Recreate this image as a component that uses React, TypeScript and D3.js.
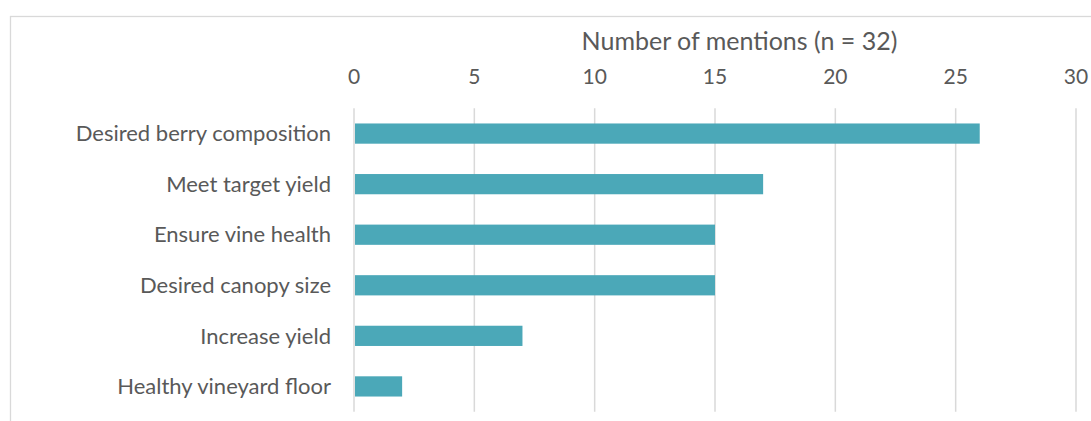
import React from "react";
import * as d3 from "d3";

const categories = [
  "Desired berry composition",
  "Meet target yield",
  "Ensure vine health",
  "Desired canopy size",
  "Increase yield",
  "Healthy vineyard floor",
];
const mentions = [26, 17, 15, 15, 7, 2];
const tickValues = [0, 5, 10, 15, 20, 25, 30];
const axisTitle = "Number of mentions (n = 32)";

const W = 1091;
const H = 421;
const FONT = "Lato, 'Open Sans', sans-serif";
const TEXT = "#595959";
const GRID = "#D9D9D9";
const BAR = "#4BA8B8";

export default function App() {
  const x = d3.scaleLinear().domain([0, 30]).range([354, 1076]);
  const y = d3
    .scaleBand<string>()
    .domain(categories)
    .range([108.3, 411.7])
    .paddingInner(0.6)
    .paddingOuter(0.3);

  return (
    <svg
      width={W}
      height={H}
      style={{ position: "absolute", left: 0, top: 0, display: "block" }}
      fontFamily={FONT}
    >
      <rect x={0} y={0} width={W} height={H} fill="#fff" />
      <rect x={10.5} y={16.5} width={1300} height={600} fill="none" stroke={GRID} strokeWidth={1.3} />
      <text x={739.5} y={50} textAnchor="middle" fontSize={25} fill={TEXT}>
        {axisTitle}
      </text>
      {tickValues.map((t) => (
        <g key={t}>
          <line x1={x(t)} x2={x(t)} y1={108.3} y2={411.7} stroke={GRID} strokeWidth={1.5} />
          <text x={x(t)} y={84} textAnchor="middle" fontSize={21} fill={TEXT}>
            {t}
          </text>
        </g>
      ))}
      {categories.map((c, i) => (
        <g key={c}>
          <rect
            x={x(0) + 1}
            y={y(c)}
            width={x(mentions[i]) - x(0) - 1}
            height={y.bandwidth()}
            fill={BAR}
          />
          <text
            x={331}
            y={(y(c) as number) + y.bandwidth() / 2}
            dy="0.35em"
            textAnchor="end"
            fontSize={22}
            fill={TEXT}
          >
            {c}
          </text>
        </g>
      ))}
    </svg>
  );
}
